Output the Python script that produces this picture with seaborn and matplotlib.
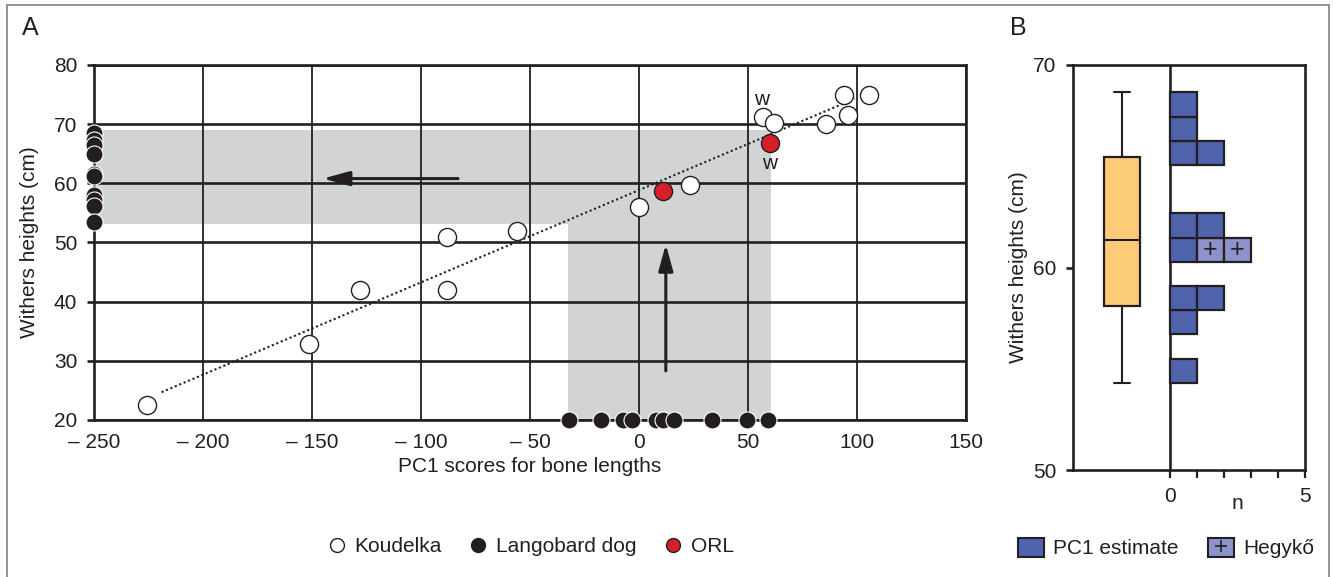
import numpy as np
import pandas as pd
import matplotlib
matplotlib.use("Agg")
import matplotlib.pyplot as plt
import seaborn as sns
from matplotlib.lines import Line2D
from matplotlib.patches import Patch, Rectangle
from matplotlib.legend_handler import HandlerTuple

# ---------------- data ----------------
koud_x = [-225.8, -151.4, -128.2, -88.3, -88.3, -55.8, 0.0, 23.6, 56.9, 61.8, 85.8, 94.1, 95.7, 105.4]
koud_y = [22.6, 32.9, 42.0, 42.0, 50.9, 51.9, 56.0, 59.8, 71.2, 70.2, 70.0, 75.0, 71.5, 75.0]
orl_x = [11.2, 59.9]
orl_y = [58.7, 66.9]
lango_pc1 = [-32.0, -17.5, -7.2, -3.4, 7.8, 10.8, 16.2, 33.5, 49.5, 59.3]
lango_height = [68.5, 67.4, 66.5, 65.0, 61.5, 61.2, 58.1, 57.2, 56.1, 53.5]
fit_x = [-219.0, 99.0]
fit_y = [24.7, 74.3]
band_y = [53.2, 69.0]
band_x = [-32.5, 60.5]
w_labels_x = [56.3, 59.8]
w_labels_y = [74.2, 63.4]
x_ticks = [-250, -200, -150, -100, -50, 0, 50, 100, 150]
x_tick_labels = ["\u2013 250", "\u2013 200", "\u2013 150", "\u2013 100", "\u2013 50", "0", "50", "100", "150"]
y_ticks = [20, 30, 40, 50, 60, 70, 80]

# panel B
hist_bin_start = 54.31
hist_bin_width = 1.195
pc1_counts = [1, 0, 1, 2, 0, 1, 2, 0, 0, 2, 1, 1]
hegyko_counts = [0, 0, 0, 0, 0, 2, 0, 0, 0, 0, 0, 0]
box_whislo, box_q1, box_med, box_q3, box_whishi = 54.31, 58.09, 61.37, 65.48, 68.65

# ---------------- style ----------------
sns.set_style("ticks")
plt.rcParams['font.family'] = ['Liberation Sans', 'DejaVu Sans']
INK = '#231f20'
BLUE = '#5064ae'
LILAC = '#8e92ca'
ORANGE = '#fbcb78'
RED = '#d71f2b'
GRAY = '#d1d3d4'
FS = 15

W, H = 1333, 577
fig = plt.figure(figsize=(W / 100, H / 100), dpi=100)
fig.patch.set_facecolor('white')

def fx(px):
    return px / W

def fy(py):
    return 1 - py / H

# ---------------- panel A ----------------
axA = fig.add_axes([fx(94), fy(420), fx(966 - 94), (420 - 65) / H])
axA.set_xlim(-250, 150)
axA.set_ylim(20, 80)

axA.fill_between([-250, band_x[1]], band_y[0], band_y[1], color=GRAY, lw=0, zorder=0.2)
axA.fill_between(band_x, 20, band_y[0], color=GRAY, lw=0, zorder=0.2)

axA.set_axisbelow(True)
axA.xaxis.grid(True, color=INK, lw=1.3)
axA.yaxis.grid(True, color=INK, lw=1.9)
for s in axA.spines.values():
    s.set_color(INK)
    s.set_linewidth(1.9)

axA.plot(fit_x, fit_y, ls=(0, (1, 1.3)), color=INK, lw=1.5, zorder=2)

axA.annotate('', xy=(-145, 60.8), xytext=(-83, 60.8),
             arrowprops=dict(arrowstyle='-|>,head_length=0.8,head_width=0.22', color=INK,
                             lw=2.2, mutation_scale=20, shrinkA=0, shrinkB=0), zorder=3)
axA.annotate('', xy=(12.3, 49.7), xytext=(12.3, 28.3),
             arrowprops=dict(arrowstyle='-|>,head_length=0.8,head_width=0.22', color=INK,
                             lw=2.2, mutation_scale=20, shrinkA=0, shrinkB=0), zorder=3)

sns.scatterplot(x=koud_x, y=koud_y, ax=axA, s=170, color='white', edgecolor=INK,
                linewidth=1.0, zorder=4, legend=False)
sns.scatterplot(x=orl_x, y=orl_y, ax=axA, s=170, color=RED, edgecolor=INK,
                linewidth=1.0, zorder=4, legend=False)
sns.scatterplot(x=[-250] * len(lango_height), y=lango_height, ax=axA, s=150, color=INK,
                edgecolor='white', linewidth=0.8, zorder=5, clip_on=False, legend=False)
sns.scatterplot(x=lango_pc1, y=[20] * len(lango_pc1), ax=axA, s=150, color=INK,
                edgecolor='white', linewidth=0.8, zorder=5, clip_on=False, legend=False)

for wx, wy in zip(w_labels_x, w_labels_y):
    axA.text(wx, wy, 'w', ha='center', va='center', fontsize=FS, color=INK, zorder=6)

axA.set_xticks(x_ticks)
axA.set_xticklabels(x_tick_labels)
axA.set_yticks(y_ticks)
axA.tick_params(axis='x', length=0, pad=9, labelsize=FS, colors=INK)
axA.tick_params(axis='y', length=5, width=1.9, pad=7, labelsize=FS, colors=INK)
axA.set_xlabel('PC1 scores for bone lengths', fontsize=FS, color=INK)
axA.set_ylabel('Withers heights (cm)', fontsize=FS, color=INK)
axA.xaxis.set_label_coords(0.5, -47 / 355)
axA.xaxis.label.set_va('center')
axA.yaxis.set_label_coords(-64 / 872, 0.5)
axA.yaxis.label.set_va('center')

# ---------------- panel B ----------------
axB = fig.add_axes([fx(1073), fy(470), fx(1305 - 1073), (470 - 65) / H])
axB.set_xlim(-3.57, 5)
axB.set_ylim(50, 70)
for s in axB.spines.values():
    s.set_color(INK)
    s.set_linewidth(1.9)
axB.axvline(0, color=INK, lw=1.9, zorder=1)

stats = [dict(med=box_med, q1=box_q1, q3=box_q3, whislo=box_whislo, whishi=box_whishi, fliers=[])]
axB.bxp(stats, positions=[-1.775], widths=1.33, capwidths=0.59, patch_artist=True,
        showfliers=False, manage_ticks=False,
        boxprops=dict(facecolor=ORANGE, edgecolor=INK, lw=1.6),
        medianprops=dict(color=INK, lw=1.5),
        whiskerprops=dict(color=INK, lw=1.5),
        capprops=dict(color=INK, lw=1.5))

for i, (cp, ch) in enumerate(zip(pc1_counts, hegyko_counts)):
    y0 = hist_bin_start + i * hist_bin_width
    for k in range(cp):
        axB.barh(y0, 1, left=k, height=hist_bin_width, align='edge', color=BLUE,
                 edgecolor=INK, linewidth=1.6, zorder=3)
    for k in range(ch):
        axB.barh(y0, 1, left=cp + k, height=hist_bin_width, align='edge', color=LILAC,
                 edgecolor=INK, linewidth=1.6, zorder=3)
        axB.text(cp + k + 0.5, y0 + hist_bin_width / 2, '+', ha='center', va='center',
                 fontsize=18, color=INK, zorder=4)

axB.set_yticks([50, 60, 70])
axB.set_xticks([0, 1, 2, 3, 4, 5])
axB.set_xticklabels(['0', '', '', '', '', '5'])
axB.tick_params(axis='x', length=6, width=1.6, pad=6, labelsize=FS, colors=INK)
axB.tick_params(axis='y', length=5, width=1.9, pad=7, labelsize=FS, colors=INK)
axB.text(2.5, -0.083, 'n', transform=axB.get_xaxis_transform(), ha='center', va='center',
         fontsize=FS, color=INK)
axB.set_ylabel('Withers heights (cm)', fontsize=FS, color=INK)
axB.yaxis.set_label_coords(-(1073 - 1018) / 232, 0.5)
axB.yaxis.label.set_va('center')

# ---------------- legends ----------------
hA = [Line2D([], [], marker='o', ls='', markersize=10, mfc='white', mec=INK, mew=1.0),
      Line2D([], [], marker='o', ls='', markersize=10, mfc=INK, mec=INK, mew=1.0),
      Line2D([], [], marker='o', ls='', markersize=10, mfc=RED, mec=INK, mew=1.0)]
legA = fig.legend(hA, ['Koudelka', 'Langobard dog', 'ORL'], loc='center',
                  bbox_to_anchor=(fx(530), fy(547)), ncol=3, frameon=False, fontsize=FS,
                  handlelength=1.0, handletextpad=0.35, columnspacing=1.25)
for t in legA.get_texts():
    t.set_color(INK)

hB = [Patch(facecolor=BLUE, edgecolor=INK, lw=1.5),
      (Patch(facecolor=LILAC, edgecolor=INK, lw=1.5),
       Line2D([], [], marker='+', ls='', markersize=9, color=INK, mew=1.2))]
legB = fig.legend(hB, ['PC1 estimate', 'Hegyk\u0151'], loc='center',
                  bbox_to_anchor=(fx(1166), fy(548)), ncol=2, frameon=False, fontsize=FS,
                  handlelength=1.25, handleheight=1.05, handletextpad=0.45, columnspacing=1.4,
                  handler_map={tuple: HandlerTuple(ndivide=1)})
for t in legB.get_texts():
    t.set_color(INK)

# ---------------- panel letters and frame ----------------
fig.text(fx(30), fy(28), 'A', ha='center', va='center', fontsize=18, color=INK)
fig.text(fx(1018), fy(28), 'B', ha='center', va='center', fontsize=18, color=INK)
fig.add_artist(Rectangle((fx(7), -0.05), fx(1329 - 7), fy(5) + 0.05, transform=fig.transFigure,
                         fill=False, edgecolor='#8a8a8a', lw=1.3))

fig.savefig('out.png', dpi=100)
